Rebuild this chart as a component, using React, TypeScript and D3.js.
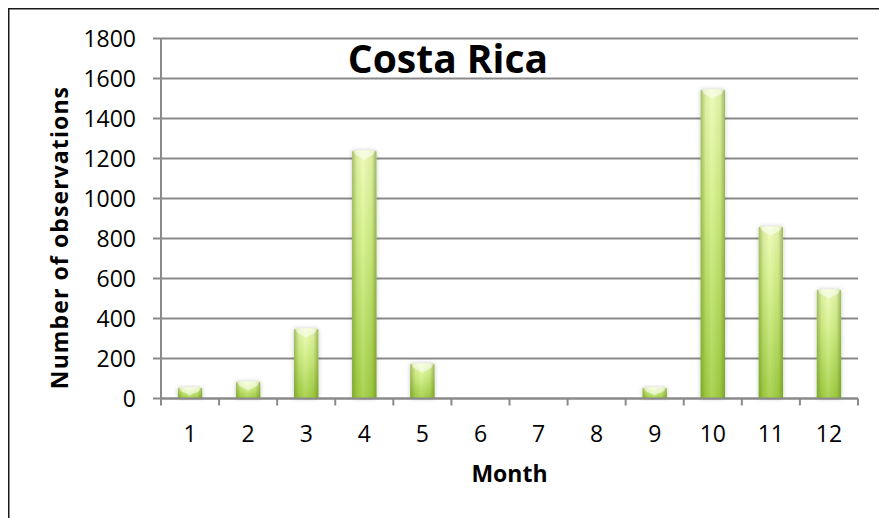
import React from "react";
import * as d3 from "d3";

// Observations per month
const months = ["1", "2", "3", "4", "5", "6", "7", "8", "9", "10", "11", "12"];
const observations = [55, 85, 350, 1240, 175, 0, 0, 0, 55, 1545, 860, 545];
const yTicks = [0, 200, 400, 600, 800, 1000, 1200, 1400, 1600, 1800];

const title = "Costa Rica";
const xTitle = "Month";
const yTitle = "Number of observations";

const W = 879;
const H = 518;
const plot = { left: 161, right: 858, top: 38.5, bottom: 398.5 };
const font = "'Open Sans', 'Liberation Sans', sans-serif";
const grid = "#8a8a8a";

export default function App() {
  const x = d3
    .scaleBand<string>()
    .domain(months)
    .range([plot.left, plot.right])
    .paddingInner(0.58)
    .paddingOuter(0.29);
  const step = x.step();
  const y = d3.scaleLinear().domain([0, 1800]).range([plot.bottom, plot.top]);

  const bw = x.bandwidth();

  return (
    <svg
      width={W}
      height={H}
      style={{ position: "absolute", left: 0, top: 0, background: "#fff" }}
    >
      <defs>
        <linearGradient id="barV" x1="0" y1="0" x2="0" y2="1">
          <stop offset="0" stopColor="#ecfbb4" />
          <stop offset="0.35" stopColor="#d4f188" />
          <stop offset="1" stopColor="#a0ce40" />
        </linearGradient>
        <linearGradient id="barH" x1="0" y1="0" x2="1" y2="0">
          <stop offset="0" stopColor="#5d7e1c" stopOpacity="0.5" />
          <stop offset="0.2" stopColor="#5d7e1c" stopOpacity="0.1" />
          <stop offset="0.45" stopColor="#ffffff" stopOpacity="0.12" />
          <stop offset="0.8" stopColor="#5d7e1c" stopOpacity="0.1" />
          <stop offset="1" stopColor="#5d7e1c" stopOpacity="0.55" />
        </linearGradient>
        <filter id="glow" x="-50%" y="-20%" width="200%" height="140%">
          <feDropShadow dx="0" dy="0" stdDeviation="2.2" floodColor="#000" floodOpacity="0.22" />
        </filter>
      </defs>

      {/* outer frame */}
      <rect x={8.75} y={8.75} width={W} height={H} fill="none" stroke="#1a1a1a" strokeWidth={1.5} />

      {/* gridlines and y ticks */}
      {yTicks.map((t) => (
        <g key={t}>
          <line x1={plot.left - 8} x2={plot.right} y1={y(t)} y2={y(t)} stroke={grid} strokeWidth={2} />
          <text
            x={136}
            y={y(t)}
            dy="0.35em"
            textAnchor="end"
            fontFamily={font}
            fontSize={23}
            fill="#000"
          >
            {t}
          </text>
        </g>
      ))}

      {/* y axis */}
      <line x1={plot.left} x2={plot.left} y1={plot.top} y2={plot.bottom + 7} stroke={grid} strokeWidth={2} />

      {/* x ticks */}
      {months.map((m, i) => (
        <line
          key={m}
          x1={plot.left + (i + 1) * step}
          x2={plot.left + (i + 1) * step}
          y1={plot.bottom}
          y2={plot.bottom + 7}
          stroke={grid}
          strokeWidth={2}
        />
      ))}

      {/* bars */}
      {months.map((m, i) => {
        const v = observations[i];
        if (v <= 0) return null;
        const x0 = x(m)!;
        const y0 = y(v);
        const h = plot.bottom - y0;
        const cx = x0 + bw / 2;
        const bev = Math.min(9, h * 0.7);
        return (
          <g key={m}>
            <rect x={x0} y={y0} width={bw} height={h} rx={1.5} fill="url(#barV)" filter="url(#glow)" />
            <rect x={x0} y={y0} width={bw} height={h} rx={1.5} fill="url(#barH)" />
            <polygon
              points={`${x0 + 1},${y0} ${x0 + bw - 1},${y0} ${x0 + bw - 3},${y0 + bev * 0.45} ${cx},${y0 + bev} ${x0 + 3},${y0 + bev * 0.45}`}
              fill="#ffffff"
              opacity={0.55}
            />
          </g>
        );
      })}

      {/* x axis baseline */}
      <line x1={plot.left} x2={plot.right} y1={plot.bottom} y2={plot.bottom} stroke={grid} strokeWidth={2} />

      {/* x tick labels */}
      {months.map((m) => (
        <text
          key={m}
          x={x(m)! + bw / 2}
          y={434}
          dy="0.35em"
          textAnchor="middle"
          fontFamily={font}
          fontSize={23}
          fill="#000"
        >
          {m}
        </text>
      ))}

      {/* titles */}
      <text
        x={448}
        y={73}
        textAnchor="middle"
        fontFamily={font}
        fontWeight="bold"
        fontSize={39}
        fill="#000"
      >
        {title}
      </text>
      <text
        x={(plot.left + plot.right) / 2}
        y={482}
        textAnchor="middle"
        fontFamily={font}
        fontWeight="bold"
        fontSize={23}
        fill="#000"
      >
        {xTitle}
      </text>
      <text
        transform={`translate(67.5,237.5) rotate(-90)`}
        textAnchor="middle"
        fontFamily={font}
        fontWeight="bold"
        fontSize={23}
        letterSpacing={1.1}
        fill="#000"
      >
        {yTitle}
      </text>
    </svg>
  );
}
